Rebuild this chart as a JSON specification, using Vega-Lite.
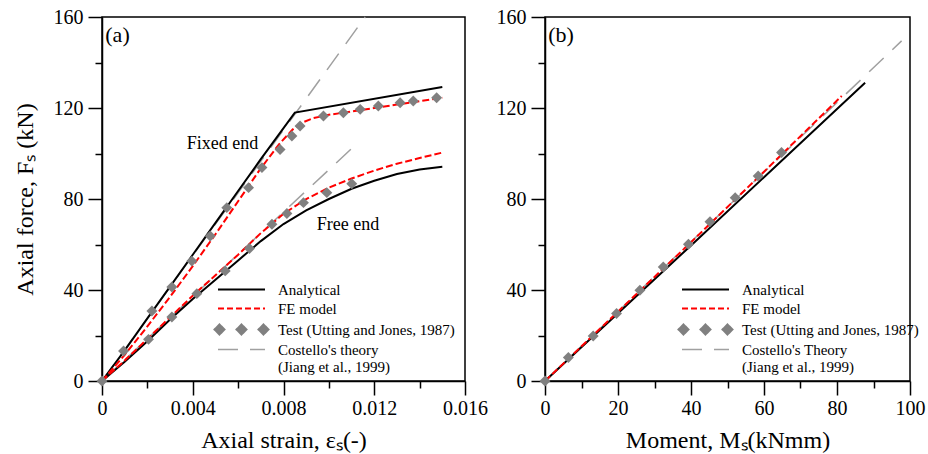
{
  "$schema": "https://vega.github.io/schema/vega-lite/v6.json",
  "background": "white",
  "padding": {"left": 12, "top": 6, "right": 0, "bottom": 0},
  "config": {
    "font": "Liberation Serif",
    "text": {"font": "Liberation Serif"},
    "view": {"stroke": "black", "strokeWidth": 1.5},
    "axis": {
      "grid": false, "domainColor": "black", "domainWidth": 1.5,
      "tickColor": "black", "tickWidth": 1.5,
      "labelFont": "Liberation Serif", "labelFontSize": 20, "labelColor": "black", "labelFlush": false,
      "titleFont": "Liberation Serif", "titleFontSize": 24, "titleFontWeight": "normal", "titleColor": "black"
    },
    "legend": {
      "labelFont": "Liberation Serif", "labelFontSize": 15, "labelColor": "black", "labelLimit": 0,
      "symbolSize": 16, "labelOffset": 29, "rowPadding": 3, "padding": 0
    }
  },
  "datasets": {
    "left": [
      {"g": "fixed", "s": "Costello", "x": 0, "y": 0},
      {"g": "fixed", "s": "Costello", "x": 0.0116, "y": 160},
      {"g": "free", "s": "Costello", "x": 0, "y": 0},
      {"g": "free", "s": "Costello", "x": 0.0112, "y": 104},

      {"g": "fixed", "s": "Analytical", "x": 0, "y": 0},
      {"g": "fixed", "s": "Analytical", "x": 0.001, "y": 13.5},
      {"g": "fixed", "s": "Analytical", "x": 0.002, "y": 27.5},
      {"g": "fixed", "s": "Analytical", "x": 0.003, "y": 41.5},
      {"g": "fixed", "s": "Analytical", "x": 0.004, "y": 55.5},
      {"g": "fixed", "s": "Analytical", "x": 0.005, "y": 69.5},
      {"g": "fixed", "s": "Analytical", "x": 0.006, "y": 83.5},
      {"g": "fixed", "s": "Analytical", "x": 0.007, "y": 97.5},
      {"g": "fixed", "s": "Analytical", "x": 0.0085, "y": 118},
      {"g": "fixed", "s": "Analytical", "x": 0.015, "y": 129.2},
      {"g": "free", "s": "Analytical", "x": 0, "y": 0},
      {"g": "free", "s": "Analytical", "x": 0.001, "y": 8.5},
      {"g": "free", "s": "Analytical", "x": 0.002, "y": 17.5},
      {"g": "free", "s": "Analytical", "x": 0.003, "y": 27},
      {"g": "free", "s": "Analytical", "x": 0.004, "y": 36},
      {"g": "free", "s": "Analytical", "x": 0.005, "y": 44.5},
      {"g": "free", "s": "Analytical", "x": 0.006, "y": 53},
      {"g": "free", "s": "Analytical", "x": 0.007, "y": 61.5},
      {"g": "free", "s": "Analytical", "x": 0.008, "y": 69},
      {"g": "free", "s": "Analytical", "x": 0.009, "y": 75},
      {"g": "free", "s": "Analytical", "x": 0.010, "y": 80},
      {"g": "free", "s": "Analytical", "x": 0.011, "y": 84.5},
      {"g": "free", "s": "Analytical", "x": 0.012, "y": 88},
      {"g": "free", "s": "Analytical", "x": 0.013, "y": 91},
      {"g": "free", "s": "Analytical", "x": 0.014, "y": 93},
      {"g": "free", "s": "Analytical", "x": 0.015, "y": 94.2},

      {"g": "fixed", "s": "FE model", "x": 0, "y": 0},
      {"g": "fixed", "s": "FE model", "x": 0.001, "y": 11.5},
      {"g": "fixed", "s": "FE model", "x": 0.002, "y": 24},
      {"g": "fixed", "s": "FE model", "x": 0.003, "y": 37},
      {"g": "fixed", "s": "FE model", "x": 0.004, "y": 50.5},
      {"g": "fixed", "s": "FE model", "x": 0.005, "y": 64.5},
      {"g": "fixed", "s": "FE model", "x": 0.006, "y": 79},
      {"g": "fixed", "s": "FE model", "x": 0.007, "y": 93.5},
      {"g": "fixed", "s": "FE model", "x": 0.0078, "y": 104},
      {"g": "fixed", "s": "FE model", "x": 0.0084, "y": 110.5},
      {"g": "fixed", "s": "FE model", "x": 0.0088, "y": 113.5},
      {"g": "fixed", "s": "FE model", "x": 0.0093, "y": 115.5},
      {"g": "fixed", "s": "FE model", "x": 0.010, "y": 117},
      {"g": "fixed", "s": "FE model", "x": 0.011, "y": 118.5},
      {"g": "fixed", "s": "FE model", "x": 0.012, "y": 120},
      {"g": "fixed", "s": "FE model", "x": 0.013, "y": 121.5},
      {"g": "fixed", "s": "FE model", "x": 0.014, "y": 123},
      {"g": "fixed", "s": "FE model", "x": 0.015, "y": 124.5},
      {"g": "free", "s": "FE model", "x": 0, "y": 0},
      {"g": "free", "s": "FE model", "x": 0.001, "y": 9},
      {"g": "free", "s": "FE model", "x": 0.002, "y": 18.5},
      {"g": "free", "s": "FE model", "x": 0.003, "y": 28},
      {"g": "free", "s": "FE model", "x": 0.004, "y": 37.5},
      {"g": "free", "s": "FE model", "x": 0.005, "y": 46.5},
      {"g": "free", "s": "FE model", "x": 0.006, "y": 55.5},
      {"g": "free", "s": "FE model", "x": 0.007, "y": 65},
      {"g": "free", "s": "FE model", "x": 0.008, "y": 73.5},
      {"g": "free", "s": "FE model", "x": 0.009, "y": 80},
      {"g": "free", "s": "FE model", "x": 0.010, "y": 85},
      {"g": "free", "s": "FE model", "x": 0.011, "y": 89},
      {"g": "free", "s": "FE model", "x": 0.012, "y": 92.5},
      {"g": "free", "s": "FE model", "x": 0.013, "y": 95.5},
      {"g": "free", "s": "FE model", "x": 0.014, "y": 98},
      {"g": "free", "s": "FE model", "x": 0.015, "y": 100.4},

      {"g": "fixed", "s": "Test", "x": 0, "y": 0},
      {"g": "fixed", "s": "Test", "x": 0.00095, "y": 13.2},
      {"g": "fixed", "s": "Test", "x": 0.0022, "y": 30.8},
      {"g": "fixed", "s": "Test", "x": 0.00308, "y": 41.3},
      {"g": "fixed", "s": "Test", "x": 0.00396, "y": 52.7},
      {"g": "fixed", "s": "Test", "x": 0.00477, "y": 63.7},
      {"g": "fixed", "s": "Test", "x": 0.0055, "y": 76.2},
      {"g": "fixed", "s": "Test", "x": 0.00646, "y": 85},
      {"g": "fixed", "s": "Test", "x": 0.00705, "y": 93.8},
      {"g": "fixed", "s": "Test", "x": 0.00785, "y": 101.8},
      {"g": "fixed", "s": "Test", "x": 0.00837, "y": 107.7},
      {"g": "fixed", "s": "Test", "x": 0.00873, "y": 112.1},
      {"g": "fixed", "s": "Test", "x": 0.00976, "y": 116.5},
      {"g": "fixed", "s": "Test", "x": 0.01064, "y": 117.9},
      {"g": "fixed", "s": "Test", "x": 0.01138, "y": 119.4},
      {"g": "fixed", "s": "Test", "x": 0.01218, "y": 120.9},
      {"g": "fixed", "s": "Test", "x": 0.01314, "y": 122.3},
      {"g": "fixed", "s": "Test", "x": 0.01372, "y": 123.1},
      {"g": "fixed", "s": "Test", "x": 0.01475, "y": 124.5},
      {"g": "free", "s": "Test", "x": 0.00205, "y": 18.3},
      {"g": "free", "s": "Test", "x": 0.00308, "y": 28.1},
      {"g": "free", "s": "Test", "x": 0.00418, "y": 38.4},
      {"g": "free", "s": "Test", "x": 0.00543, "y": 48.4},
      {"g": "free", "s": "Test", "x": 0.0065, "y": 58.2},
      {"g": "free", "s": "Test", "x": 0.00749, "y": 68.9},
      {"g": "free", "s": "Test", "x": 0.00815, "y": 73.6},
      {"g": "free", "s": "Test", "x": 0.00888, "y": 78.4},
      {"g": "free", "s": "Test", "x": 0.00991, "y": 82.8},
      {"g": "free", "s": "Test", "x": 0.01101, "y": 86.7}
    ],
    "leftNotes": [
      {"x": 0.000145, "y": 149, "label": "(a)", "size": 22},
      {"x": 0.00374, "y": 102, "label": "Fixed end", "size": 18},
      {"x": 0.00947, "y": 66.4, "label": "Free end", "size": 18}
    ],
    "right": [
      {"s": "Costello", "x": 0, "y": 0},
      {"s": "Costello", "x": 97.7, "y": 149.5},
      {"s": "Analytical", "x": 0, "y": 0},
      {"s": "Analytical", "x": 20, "y": 29.8},
      {"s": "Analytical", "x": 40, "y": 59.6},
      {"s": "Analytical", "x": 60, "y": 89.6},
      {"s": "Analytical", "x": 80, "y": 119.6},
      {"s": "Analytical", "x": 87.7, "y": 131.1},
      {"s": "FE model", "x": 0, "y": 0},
      {"s": "FE model", "x": 20, "y": 30.5},
      {"s": "FE model", "x": 40, "y": 61},
      {"s": "FE model", "x": 60, "y": 92},
      {"s": "FE model", "x": 81.3, "y": 125.3},
      {"s": "Test", "x": 0, "y": 0},
      {"s": "Test", "x": 6.4, "y": 10.3},
      {"s": "Test", "x": 13.2, "y": 19.8},
      {"s": "Test", "x": 19.6, "y": 29.7},
      {"s": "Test", "x": 26, "y": 39.9},
      {"s": "Test", "x": 32.4, "y": 50.1},
      {"s": "Test", "x": 39.3, "y": 60.1},
      {"s": "Test", "x": 45.2, "y": 70},
      {"s": "Test", "x": 52.1, "y": 80.6},
      {"s": "Test", "x": 58.4, "y": 90.1},
      {"s": "Test", "x": 64.8, "y": 100.4}
    ],
    "rightNotes": [
      {"x": 0.9, "y": 149, "label": "(b)", "size": 22}
    ]
  },
  "spacing": 80,
  "bounds": "flush",
  "resolve": {"scale": {"x": "independent", "y": "independent", "color": "independent"}, "legend": {"color": "independent"}},
  "hconcat": [
    {
      "width": 363, "height": 364,
      "encoding": {
        "x": {"field": "x", "type": "quantitative", "scale": {"domain": [0, 0.016], "nice": false, "zero": false},
              "axis": {"title": "Axial strain, εₛ(-)", "values": [0, 0.002, 0.004, 0.006, 0.008, 0.010, 0.012, 0.014, 0.016], "format": ".3~f",
                       "labelExpr": "round(datum.value*1000) % 4 === 0 ? datum.label : ''", "titlePadding": 10, "labelPadding": 3,
                       "tickSize": {"condition": {"test": "round(datum.value*1000) % 4 === 0", "value": 14}, "value": 7}}},
        "y": {"field": "y", "type": "quantitative", "scale": {"domain": [0, 160], "nice": false},
              "axis": {"title": "Axial force, Fₛ (kN)", "values": [0, 20, 40, 60, 80, 100, 120, 140, 160], "labelPadding": 5,
                       "labelExpr": "datum.value % 40 === 0 ? datum.label : ''", "titlePadding": 16,
                       "tickSize": {"condition": {"test": "datum.value % 40 === 0", "value": 14}, "value": 7}}}
      },
      "layer": [
        {
          "data": {"name": "left"},
          "transform": [{"filter": "datum.s === 'Costello'"}],
          "mark": {"type": "line", "strokeDash": [20, 12], "strokeWidth": 1.5},
          "encoding": {
            "detail": {"field": "g"},
            "color": {"field": "s", "type": "nominal",
                      "scale": {"domain": ["Analytical", "FE model", "Test", "Costello"], "range": ["black", "#ff0000", "#808080", "#a0a0a0"]},
                      "legend": {"title": null, "orient": "none", "legendX": 132, "legendY": 265,
                                 "labelExpr": "datum.value === 'Costello' ? [\"Costello's theory\", '(Jiang et al., 1999)'] : datum.value === 'Test' ? 'Test (Utting and Jones, 1987)' : datum.label",
                                 "encode": {"symbols": {"update": {
                                   "shape": {"signal": "datum.value === 'Test' ? 'M-13.5,0L-11,-2.5L-8.5,0L-11,2.5ZM-2.5,0L0,-2.5L2.5,0L0,2.5ZM8.5,0L11,-2.5L13.5,0L11,2.5Z' : 'M-11.75,0H11.75'"},
                                   "size": {"value": 16},
                                   "fill": {"signal": "datum.value === 'Test' ? '#808080' : 'transparent'"},
                                   "stroke": {"signal": "datum.value === 'Analytical' ? 'black' : datum.value === 'FE model' ? '#ff0000' : datum.value === 'Costello' ? '#a0a0a0' : 'transparent'"},
                                   "strokeDash": {"signal": "datum.value === 'FE model' ? [6,3] : datum.value === 'Costello' ? [20,12] : [1,0]"},
                                   "strokeWidth": {"signal": "datum.value === 'Costello' ? 1.5 : 2"},
                                   "opacity": {"value": 1}
                                 }}}}}
          }
        },
        {
          "data": {"name": "left"},
          "transform": [{"filter": "datum.s === 'Analytical'"}],
          "mark": {"type": "line", "strokeWidth": 2},
          "encoding": {"detail": {"field": "g"}, "color": {"field": "s", "type": "nominal"}}
        },
        {
          "data": {"name": "left"},
          "transform": [{"filter": "datum.s === 'FE model'"}],
          "mark": {"type": "line", "strokeWidth": 2, "strokeDash": [7, 3]},
          "encoding": {"detail": {"field": "g"}, "color": {"field": "s", "type": "nominal"}}
        },
        {
          "data": {"name": "left"},
          "transform": [{"filter": "datum.s === 'Test'"}],
          "mark": {"type": "point", "shape": "diamond", "filled": true, "size": 120, "color": "#808080", "opacity": 1}
        },
        {
          "data": {"name": "leftNotes"},
          "mark": {"type": "text", "align": "left", "baseline": "alphabetic", "font": "Liberation Serif", "color": "black"},
          "encoding": {"text": {"field": "label"}, "size": {"field": "size", "type": "quantitative", "scale": null}}
        }
      ]
    },
    {
      "width": 365, "height": 364,
      "encoding": {
        "x": {"field": "x", "type": "quantitative", "scale": {"domain": [0, 100], "nice": false},
              "axis": {"title": "Moment, Mₛ(kNmm)", "values": [0, 10, 20, 30, 40, 50, 60, 70, 80, 90, 100],
                       "labelExpr": "datum.value % 20 === 0 ? datum.label : ''", "titlePadding": 10, "labelPadding": 3,
                       "tickSize": {"condition": {"test": "datum.value % 20 === 0", "value": 14}, "value": 7}}},
        "y": {"field": "y", "type": "quantitative", "scale": {"domain": [0, 160], "nice": false},
              "axis": {"title": null, "values": [0, 20, 40, 60, 80, 100, 120, 140, 160], "labelPadding": 5,
                       "labelExpr": "datum.value % 40 === 0 ? datum.label : ''",
                       "tickSize": {"condition": {"test": "datum.value % 40 === 0", "value": 14}, "value": 7}}}
      },
      "layer": [
        {
          "data": {"name": "right"},
          "transform": [{"filter": "datum.s === 'Costello'"}],
          "mark": {"type": "line", "strokeDash": [20, 12], "strokeWidth": 1.5},
          "encoding": {
            "color": {"field": "s", "type": "nominal",
                      "scale": {"domain": ["Analytical", "FE model", "Test", "Costello"], "range": ["black", "#ff0000", "#808080", "#a0a0a0"]},
                      "legend": {"title": null, "orient": "none", "legendX": 153, "legendY": 265,
                                 "labelExpr": "datum.value === 'Costello' ? [\"Costello's Theory\", '(Jiang et al., 1999)'] : datum.value === 'Test' ? 'Test (Utting and Jones, 1987)' : datum.label",
                                 "encode": {"symbols": {"update": {
                                   "shape": {"signal": "datum.value === 'Test' ? 'M-13.5,0L-11,-2.5L-8.5,0L-11,2.5ZM-2.5,0L0,-2.5L2.5,0L0,2.5ZM8.5,0L11,-2.5L13.5,0L11,2.5Z' : 'M-11.75,0H11.75'"},
                                   "size": {"value": 16},
                                   "fill": {"signal": "datum.value === 'Test' ? '#808080' : 'transparent'"},
                                   "stroke": {"signal": "datum.value === 'Analytical' ? 'black' : datum.value === 'FE model' ? '#ff0000' : datum.value === 'Costello' ? '#a0a0a0' : 'transparent'"},
                                   "strokeDash": {"signal": "datum.value === 'FE model' ? [6,3] : datum.value === 'Costello' ? [20,12] : [1,0]"},
                                   "strokeWidth": {"signal": "datum.value === 'Costello' ? 1.5 : 2"},
                                   "opacity": {"value": 1}
                                 }}}}}
          }
        },
        {
          "data": {"name": "right"},
          "transform": [{"filter": "datum.s === 'Analytical'"}],
          "mark": {"type": "line", "strokeWidth": 2},
          "encoding": {"color": {"field": "s", "type": "nominal"}}
        },
        {
          "data": {"name": "right"},
          "transform": [{"filter": "datum.s === 'FE model'"}],
          "mark": {"type": "line", "strokeWidth": 2, "strokeDash": [7, 3]},
          "encoding": {"color": {"field": "s", "type": "nominal"}}
        },
        {
          "data": {"name": "right"},
          "transform": [{"filter": "datum.s === 'Test'"}],
          "mark": {"type": "point", "shape": "diamond", "filled": true, "size": 120, "color": "#808080", "opacity": 1}
        },
        {
          "data": {"name": "rightNotes"},
          "mark": {"type": "text", "align": "left", "baseline": "alphabetic", "font": "Liberation Serif", "color": "black"},
          "encoding": {"text": {"field": "label"}, "size": {"field": "size", "type": "quantitative", "scale": null}}
        }
      ]
    }
  ]
}
